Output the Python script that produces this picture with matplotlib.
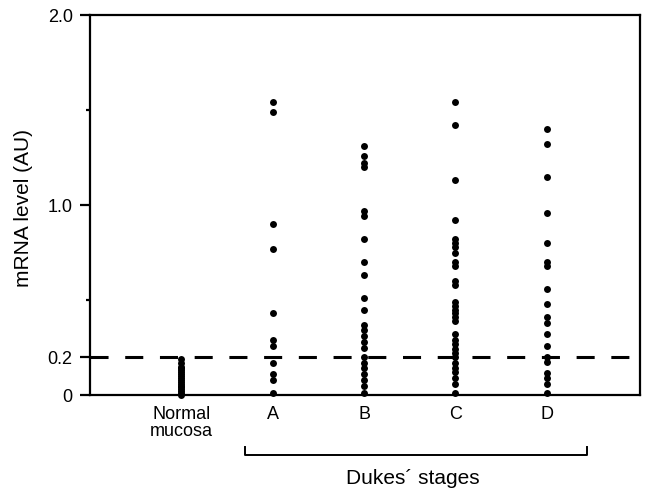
import matplotlib
matplotlib.use("Agg")
import matplotlib.pyplot as plt

plt.rcParams['font.family'] = ['Liberation Sans', 'DejaVu Sans']
plt.rcParams['lines.scale_dashes'] = False

categories = ["Normal\nmucosa", "A", "B", "C", "D"]
normal = [0.19, 0.17, 0.15, 0.14, 0.13, 0.12, 0.11, 0.10, 0.09, 0.08, 0.07,
          0.06, 0.05, 0.04, 0.03, 0.02, 0.01, 0.0]
stage_a = [1.54, 1.49, 0.90, 0.77, 0.43, 0.29, 0.26, 0.17, 0.11, 0.08, 0.01]
stage_b = [1.31, 1.26, 1.22, 1.20, 0.97, 0.94, 0.82, 0.70, 0.63, 0.51, 0.45,
           0.37, 0.34, 0.31, 0.28, 0.25, 0.20, 0.17, 0.14, 0.11, 0.08, 0.05, 0.01]
stage_c = [1.54, 1.42, 1.13, 0.92, 0.82, 0.80, 0.78, 0.75, 0.70, 0.68, 0.60,
           0.58, 0.49, 0.47, 0.45, 0.43, 0.41, 0.39, 0.32, 0.29, 0.27, 0.24,
           0.22, 0.20, 0.17, 0.14, 0.12, 0.09, 0.06, 0.01]
stage_d = [1.40, 1.32, 1.15, 0.96, 0.80, 0.70, 0.68, 0.56, 0.48, 0.41, 0.38,
           0.32, 0.26, 0.20, 0.175, 0.115, 0.09, 0.06, 0.01]
groups = [normal, stage_a, stage_b, stage_c, stage_d]
threshold = 0.2
y_major = [0, 0.2, 1.0, 2.0]
y_major_labels = ["0", "0.2", "1.0", "2.0"]
y_minor = [0.5, 1.5]

fig = plt.figure(figsize=(6.47, 4.91), dpi=100)
ax = fig.add_axes([90/647, 96/491, 550/647, 380/491])

for i, vals in enumerate(groups):
    ax.plot([i + 1] * len(vals), vals, 'o', color='black', markersize=5,
            markeredgewidth=0, clip_on=False, zorder=3)

ax.axhline(threshold, color='black', linewidth=2.2, dashes=(13, 12),
           zorder=2)

ax.set_xlim(0, 6.02)
ax.set_ylim(0, 2.0)
ax.set_yticks(y_major)
ax.set_yticklabels(y_major_labels, fontsize=13)
ax.set_yticks(y_minor, minor=True)
ax.tick_params(axis='y', which='major', length=7.5, width=1.6, direction='out', pad=5)
ax.tick_params(axis='y', which='minor', length=3, width=1.6, direction='out')
ax.set_xticks(range(1, len(categories) + 1))
ax.set_xticklabels(categories, fontsize=13, linespacing=1.0)
ax.tick_params(axis='x', length=0, pad=8)
for s in ax.spines.values():
    s.set_linewidth(1.6)

fig.text(24/647, 1 - 208/491, "mRNA level (AU)", rotation=90, ha='center',
         va='center', fontsize=15)

tr = ax.get_xaxis_transform()
ax.plot([1.70, 1.70, 5.44, 5.44], [-0.137, -0.158, -0.158, -0.137],
        color='black', linewidth=1.4, transform=tr, clip_on=False)
ax.text(3.53, -0.234, "Dukes\u00b4 stages", transform=tr, ha='center',
        va='baseline', fontsize=15)

fig.savefig("out.png", dpi=100)
